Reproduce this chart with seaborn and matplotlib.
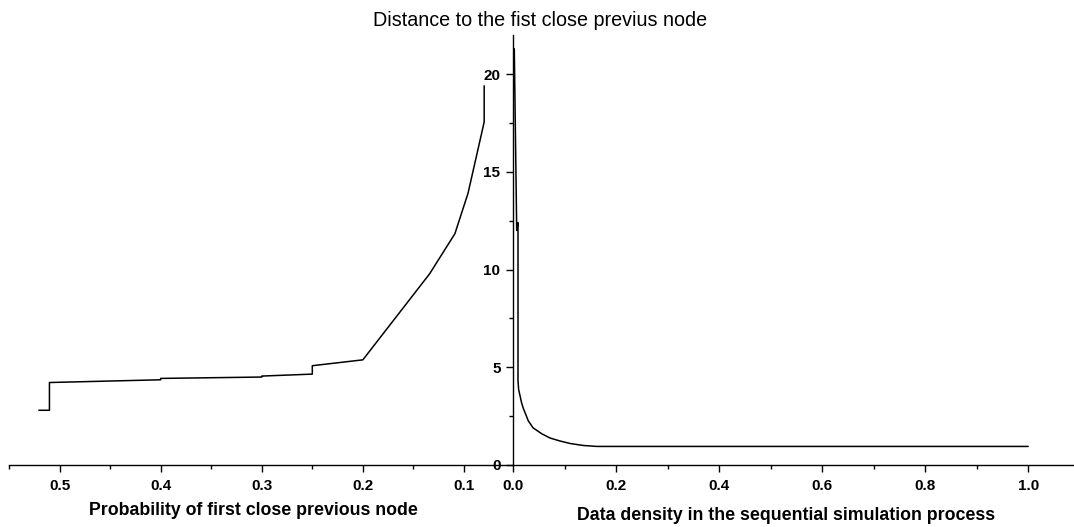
import numpy as np
import pandas as pd
import matplotlib
matplotlib.use("Agg")
import matplotlib.pyplot as plt
from matplotlib.ticker import MultipleLocator, FormatStrFormatter
import seaborn as sns

# values
prob_first_close = [0.5205, 0.510, 0.510, 0.400, 0.400, 0.300, 0.300, 0.250,
                    0.250, 0.200, 0.170, 0.134, 0.109, 0.096, 0.080, 0.080]
dist_left = [2.80, 2.80, 4.22, 4.36, 4.43, 4.50, 4.55, 4.65,
             5.08, 5.38, 7.38, 9.78, 11.83, 13.90, 17.55, 19.40]

data_density = [0.0025, 0.0072, 0.0097, 0.0097, 0.011, 0.0136, 0.0165,
                 0.020, 0.0297, 0.039, 0.0557, 0.072, 0.091, 0.111, 0.136,
                 0.163, 1.0]
dist_right = [21.3, 12.0, 12.4, 4.3, 3.85, 3.55, 3.2,
              2.9, 2.26, 1.9, 1.6, 1.38, 1.23, 1.1, 1.0,
              0.95, 0.95]

left_df = pd.DataFrame({"prob": prob_first_close, "dist": dist_left})
right_df = pd.DataFrame({"density": data_density, "dist": dist_right})

sns.set_style("ticks")
plt.rcParams["font.family"] = ["Liberation Sans", "DejaVu Sans"]
plt.rcParams["text.color"] = "black"
plt.rcParams["axes.labelcolor"] = "black"
plt.rcParams["xtick.color"] = "black"
plt.rcParams["ytick.color"] = "black"

W, H = 1074, 527
fig = plt.figure(figsize=(W / 100, H / 100), dpi=100)

y0, y1 = 465, 35
ax_l = fig.add_axes([9 / W, (H - y0) / H, (513 - 9) / W, (y0 - y1) / H])
ax_r = fig.add_axes([513 / W, (H - y0) / H, (W - 513) / W, (y0 - y1) / H])

sns.lineplot(data=left_df, x="prob", y="dist", sort=False, estimator=None,
             color="black", lw=1.1, ax=ax_l)
sns.lineplot(data=right_df, x="density", y="dist", sort=False, estimator=None,
             color="black", lw=1.1, ax=ax_r)

# left panel: reversed probability axis, no y axis of its own
ax_l.set_xlim(0.55, 0.0515)
ax_l.set_ylim(0, 22)
for s in ["left", "top", "right"]:
    ax_l.spines[s].set_visible(False)
ax_l.set_yticks([])
ax_l.xaxis.set_major_locator(MultipleLocator(0.1))
ax_l.xaxis.set_minor_locator(MultipleLocator(0.05))
ax_l.xaxis.set_major_formatter(FormatStrFormatter("%.1f"))
ax_l.set_ylabel("")
ax_l.set_xlabel("Probability of first close previous node",
                fontsize=12.8, fontweight="bold")
ax_l.xaxis.set_label_coords((253 - 9) / (513 - 9), -(502 - 465) / (y0 - y1))

# right panel carries the shared y axis
ax_r.set_xlim(0, 1.089)
ax_r.set_ylim(0, 22)
for s in ["top", "right"]:
    ax_r.spines[s].set_visible(False)
ax_r.xaxis.set_major_locator(MultipleLocator(0.2))
ax_r.xaxis.set_minor_locator(MultipleLocator(0.1))
ax_r.xaxis.set_major_formatter(FormatStrFormatter("%.1f"))
ax_r.yaxis.set_major_locator(MultipleLocator(5))
ax_r.yaxis.set_minor_locator(MultipleLocator(2.5))
ax_r.set_ylabel("")
ax_r.set_xlabel("Data density in the sequential simulation process",
                fontsize=12.8, fontweight="bold")
ax_r.xaxis.set_label_coords((786 - 513) / (W - 513), -(507 - 465) / (y0 - y1))

for ax in (ax_l, ax_r):
    for s in ["left", "bottom"]:
        ax.spines[s].set_linewidth(1.0)
        ax.spines[s].set_color("black")
    ax.tick_params(which="major", length=5, width=1.0, color="black")
    ax.tick_params(which="minor", length=3, width=1.0, color="black")
    ax.tick_params(axis="x", labelsize=11, pad=5)
    for lab in ax.get_xticklabels():
        lab.set_fontweight("bold")
ax_r.tick_params(axis="y", labelsize=11, pad=4)
for lab in ax_r.get_yticklabels():
    lab.set_fontweight("bold")

fig.text(0.503, 1 - 20 / H, "Distance to the fist close previus node",
         ha="center", va="center", fontsize=14.2)

fig.savefig("out.png", dpi=100)
